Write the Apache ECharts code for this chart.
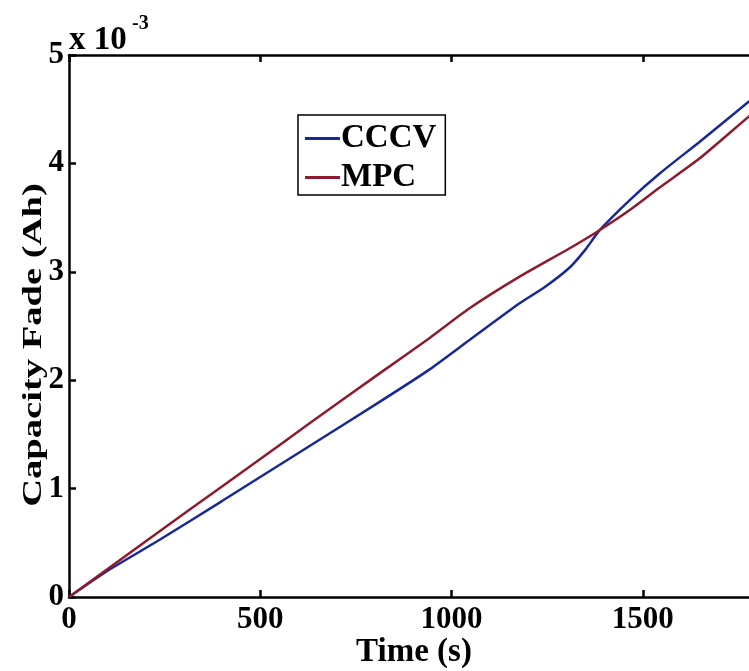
<!DOCTYPE html>
<html>
<head>
<meta charset="utf-8">
<script src="https://cdn.jsdelivr.net/npm/echarts@6/dist/echarts.min.js"></script>
<style>html,body{margin:0;padding:0;background:#fff;}#c{width:749px;height:671px;}</style>
</head>
<body>
<div id="c"></div>
<script>
// Capacity fade values in units of 10^-3 Ah
const cccvTime = [0, 100, 237, 400, 500, 629, 812, 943, 1047, 1178, 1244, 1309, 1349, 1388, 1466, 1545, 1649, 1777, 1800];
const cccvFade = [0, 0.24, 0.528, 0.885, 1.107, 1.393, 1.80, 2.10, 2.37, 2.709, 2.86, 3.04, 3.20, 3.386, 3.662, 3.909, 4.20, 4.569, 4.63];
const mpcTime = [0, 100, 237, 400, 500, 629, 812, 943, 1047, 1178, 1309, 1388, 1466, 1545, 1649, 1777, 1800];
const mpcFade = [0, 0.255, 0.606, 1.02, 1.273, 1.602, 2.063, 2.39, 2.663, 2.955, 3.217, 3.386, 3.57, 3.78, 4.047, 4.431, 4.49];
const xTicks = [0, 500, 1000, 1500, 2000];
const yTicks = [0, 1, 2, 3, 4, 5];
const seriesNames = ['CCCV', 'MPC'];

const FONT = 'Liberation Serif';
const chart = echarts.init(document.getElementById('c'), null, {renderer: 'canvas'});
const zip = (a, b) => a.map((t, i) => [t, b[i]]);
const axisLine = {show: true, lineStyle: {color: '#000', width: 2.5}};
const tick = {show: true, inside: true, length: 7, lineStyle: {color: '#000', width: 2.5}};

chart.setOption({
  animation: false,
  backgroundColor: '#fff',
  grid: {left: 69, top: 55, width: 765, height: 542, outerBoundsMode: 'none', containLabel: false},
  xAxis: [
    {type: 'value', min: xTicks[0], max: xTicks[xTicks.length - 1], interval: 500, position: 'bottom',
     axisLine: axisLine, axisTick: tick, splitLine: {show: false},
     axisLabel: {color: '#000', fontFamily: FONT, fontWeight: 'bold', fontSize: 31, margin: 7,
                 formatter: v => String(v)}},
    {type: 'value', min: xTicks[0], max: xTicks[xTicks.length - 1], interval: 500, position: 'top',
     axisLine: axisLine, axisTick: tick, splitLine: {show: false}, axisLabel: {show: false}}
  ],
  yAxis: [
    {type: 'value', min: yTicks[0], max: yTicks[yTicks.length - 1], interval: 1, position: 'left',
     axisLine: axisLine, axisTick: tick, splitLine: {show: false},
     axisLabel: {color: '#000', fontFamily: FONT, fontWeight: 'bold', fontSize: 31, margin: 5,
                 formatter: v => String(v)}}
  ],
  legend: {
    orient: 'vertical', left: 298, top: 115, padding: [7, 9, 1, 7], itemGap: 6,
    borderColor: '#000', borderWidth: 1.5, backgroundColor: '#fff',
    itemWidth: 35, itemHeight: 3, icon: 'rect',
    textStyle: {color: '#000', fontFamily: FONT, fontWeight: 'bold', fontSize: 33, padding: [0, 0, 0, -4]},
    data: seriesNames
  },
  series: [
    {name: seriesNames[0], type: 'line', data: zip(cccvTime, cccvFade), showSymbol: false, smooth: 0.2,
     lineStyle: {color: '#16289a', width: 2.5}, itemStyle: {color: '#16289a'}},
    {name: seriesNames[1], type: 'line', data: zip(mpcTime, mpcFade), showSymbol: false, smooth: 0.2,
     lineStyle: {color: '#8e1b2d', width: 2.5}, itemStyle: {color: '#8e1b2d'}}
  ],
  graphic: [
    {type: 'text', x: 69, y: 40, style: {text: 'x 10', fill: '#000', font: 'bold 33px "Liberation Serif"', verticalAlign: 'middle'}},
    {type: 'text', x: 132, y: 24, style: {text: '-3', fill: '#000', font: 'bold 20px "Liberation Serif"', verticalAlign: 'middle'}},
    {type: 'text', x: 414, y: 652, style: {text: 'Time (s)', fill: '#000', font: 'bold 33px "Liberation Serif"', align: 'center', verticalAlign: 'middle'}},
    {type: 'text', x: 34, y: 345, rotation: Math.PI / 2, scaleX: 1.33, scaleY: 0.95,
     style: {text: 'Capacity Fade (Ah)', fill: '#000', font: 'bold 29px "Liberation Serif"', align: 'center', verticalAlign: 'middle'}}
  ]
});
</script>
</body>
</html>
